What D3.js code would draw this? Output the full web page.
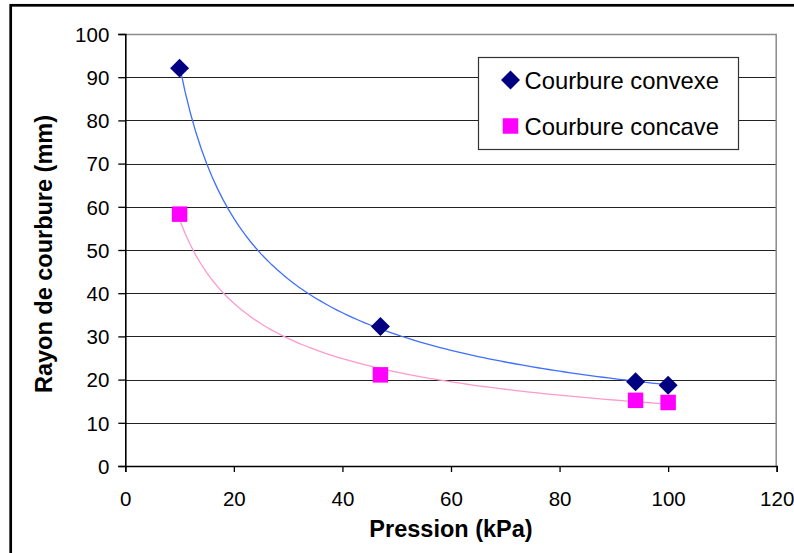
<!DOCTYPE html>
<html>
<head>
<meta charset="utf-8">
<script src="https://cdn.jsdelivr.net/npm/d3@7"></script>
<style>
  body { margin: 0; background: #fff; }
  text { font-family: "Liberation Sans", Arial, sans-serif; }
</style>
</head>
<body>
<script>
// data
const pressure = [10, 47, 94, 100];
const convexe = [92.1, 32.3, 19.5, 18.7];
const concave = [58.3, 21.1, 15.2, 14.7];
const xTicks = [0, 20, 40, 60, 80, 100, 120];
const yTicks = [0, 10, 20, 30, 40, 50, 60, 70, 80, 90, 100];

const W = 794, H = 553;
const plot = { left: 125.3, top: 34, right: 776.7, bottom: 466 };

const svg = d3.select("body").append("svg")
  .attr("width", W)
  .attr("height", H);

// outer chart frame (runs off the right/bottom edges)
svg.append("rect")
  .attr("x", 10.7).attr("y", 5.3)
  .attr("width", 900).attr("height", 700)
  .attr("fill", "none")
  .attr("stroke", "#000")
  .attr("stroke-width", 2.7);

const x = d3.scaleLinear().domain([0, 120]).range([plot.left, plot.right]);
const y = d3.scaleLinear().domain([0, 100]).range([plot.bottom, plot.top]);

// plot area border (top and right grey)
svg.append("path")
  .attr("d", `M${plot.left},${plot.top + 0.5}H${plot.right - 0.5}V${plot.bottom}`)
  .attr("fill", "none")
  .attr("stroke", "#8c8c8c")
  .attr("stroke-width", 1.5);

// gridlines
svg.append("g")
  .selectAll("line")
  .data(yTicks.filter(d => d > 0 && d < 100))
  .join("line")
  .attr("x1", plot.left).attr("x2", plot.right - 1)
  .attr("y1", d => Math.round(y(d)) + 0.5)
  .attr("y2", d => Math.round(y(d)) + 0.5)
  .attr("stroke", "#222")
  .attr("stroke-width", 1);

// axes
const yAxis = svg.append("g")
  .attr("transform", `translate(${plot.left},0)`)
  .call(d3.axisLeft(y).tickValues(yTicks).tickSize(7).tickPadding(9));
const xAxis = svg.append("g")
  .attr("transform", `translate(0,${plot.bottom})`)
  .call(d3.axisBottom(x).tickValues(xTicks).tickSize(6).tickPadding(19));

[yAxis, xAxis].forEach(g => {
  g.select(".domain").attr("stroke", "#000").attr("stroke-width", 1.6);
  g.selectAll(".tick line").attr("stroke", "#000").attr("stroke-width", 1.3);
  g.selectAll(".tick text")
    .attr("font-family", "Liberation Sans, Arial, sans-serif")
    .attr("font-size", 20.5)
    .attr("fill", "#000");
});
yAxis.selectAll(".tick text").attr("dy", "0.36em");

// axis titles
svg.append("text")
  .attr("x", 451).attr("y", 537)
  .attr("text-anchor", "middle")
  .attr("font-size", 23.5)
  .attr("font-weight", "bold")
  .text("Pression (kPa)");

svg.append("text")
  .attr("transform", "translate(52,254) rotate(-90)")
  .attr("text-anchor", "middle")
  .attr("font-size", 23.5)
  .attr("font-weight", "bold")
  .text("Rayon de courbure (mm)");

// power trendline fitted on the data (least squares in log-log space)
function powerFit(xs, ys) {
  const lx = xs.map(Math.log), ly = ys.map(Math.log);
  const mx = d3.mean(lx), my = d3.mean(ly);
  const b = d3.sum(lx, (v, i) => (v - mx) * (ly[i] - my)) / d3.sum(lx, v => (v - mx) ** 2);
  const a = Math.exp(my - b * mx);
  return v => a * Math.pow(v, b);
}

const series = [
  { name: "Courbure convexe", values: convexe, line: "#3f6fff", marker: "diamond", color: "#000080" },
  { name: "Courbure concave", values: concave, line: "#ff99cc", marker: "square", color: "#ff00ff" }
];

const lineGen = d3.line().x(d => x(d[0])).y(d => y(d[1]));

series.forEach(s => {
  const f = powerFit(pressure, s.values);
  const xs = d3.range(pressure[0], pressure[pressure.length - 1] + 0.001, 1);
  svg.append("path")
    .datum(xs.map(v => [v, f(v)]))
    .attr("d", lineGen)
    .attr("fill", "none")
    .attr("stroke", s.line)
    .attr("stroke-width", 1.3);
});

const diamond = d3.symbol().type(d3.symbolSquare).size(180);
const square = d3.symbol().type(d3.symbolSquare).size(240);

series.forEach(s => {
  svg.append("g")
    .selectAll("path")
    .data(pressure.map((p, i) => [p, s.values[i]]))
    .join("path")
    .attr("d", s.marker === "diamond" ? diamond : square)
    .attr("transform", d => `translate(${x(d[0])},${y(d[1])})` + (s.marker === "diamond" ? " rotate(45)" : ""))
    .attr("fill", s.color);
});

// legend
const legend = svg.append("g").attr("transform", "translate(478.5,57.5)");
legend.append("rect")
  .attr("width", 260).attr("height", 92)
  .attr("fill", "#fff")
  .attr("stroke", "#333")
  .attr("stroke-width", 1.2);

const item = legend.selectAll("g.item")
  .data(series)
  .join("g")
  .attr("class", "item")
  .attr("transform", (d, i) => `translate(32,${22.5 + i * 46})`);

item.append("path")
  .attr("d", d => d.marker === "diamond" ? diamond() : square())
  .attr("transform", d => d.marker === "diamond" ? "rotate(45)" : "")
  .attr("fill", d => d.color);

item.append("text")
  .attr("x", 14)
  .attr("y", 8.5)
  .attr("font-size", 23.8)
  .attr("fill", "#000")
  .text(d => d.name);
</script>
</body>
</html>
